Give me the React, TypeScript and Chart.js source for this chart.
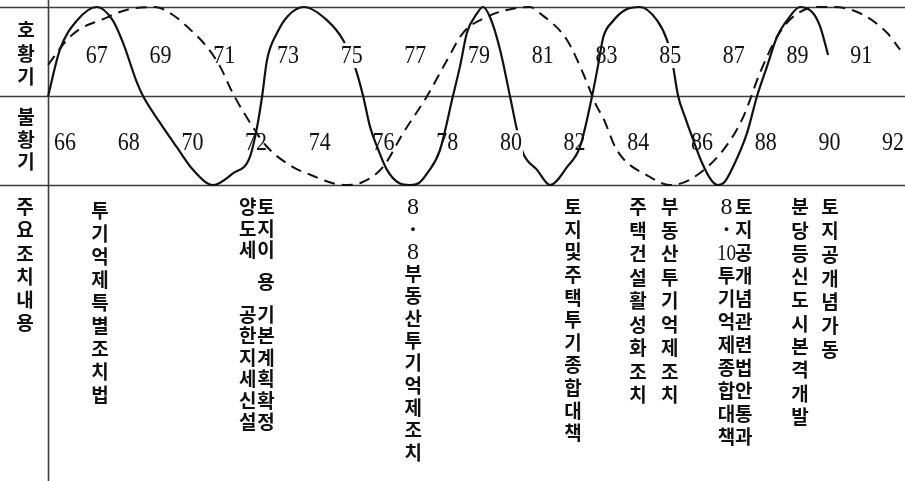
import React, { useEffect, useRef } from "react";
import { Chart, registerables } from "chart.js";

Chart.register(...registerables);

// Year labels: odd years in the boom band, even years in the slump band
const boomYears = [67, 69, 71, 73, 75, 77, 79, 81, 83, 85, 87, 89, 91];
const slumpYears = [66, 68, 70, 72, 74, 76, 78, 80, 82, 84, 86, 88, 90, 92];

// Solid cycle: year and phase (+1 peak, 0 turning line, -1 trough)
const primaryYears = [
  65.47, 65.84, 66.38, 67.0, 67.5, 67.82, 68.26, 68.45, 68.98, 69.5, 70.02, 70.65,
  71.27, 71.8, 72.03, 72.19, 72.34, 72.66, 73.0, 73.5, 74.23, 74.73, 75.1, 75.36,
  75.58, 75.8, 76.11, 76.5, 76.83, 77.1, 77.37, 77.77, 78.18, 78.4, 78.62, 78.94,
  79.12, 79.34, 79.66, 79.97, 80.19, 80.38, 80.82, 81.23, 81.76, 82.17, 82.55, 82.73,
  82.9, 83.2, 83.6, 84.05, 84.59, 84.9, 85.06, 85.25, 85.47, 85.69, 86.0, 86.3,
  86.5, 86.7, 86.97, 87.41, 87.73, 88.04, 88.35, 88.67, 89.08, 89.49, 89.71, 89.96,
];
const primaryPhase = [
  0, 0.52, 0.85, 1.0, 0.85, 0.6, 0.15, 0, -0.3, -0.57, -0.83, -1.0,
  -0.87, -0.69, -0.35, 0, 0.4, 0.71, 0.9, 1.0, 0.85, 0.63, 0.33, 0,
  -0.35, -0.57, -0.83, -0.98, -1.0, -0.98, -0.87, -0.61, 0, 0.33, 0.71, 0.93,
  1.0, 0.89, 0.52, 0, -0.38, -0.64, -0.83, -1.0, -0.8, -0.57, 0, 0.33,
  0.66, 0.84, 0.97, 1.0, 0.85, 0.63, 0.4, 0, -0.24, -0.46, -0.75, -0.95,
  -1.0, -0.97, -0.8, -0.42, 0, 0.33, 0.66, 0.85, 1.0, 0.93, 0.78, 0.46,
];

// Dashed cycle
const secondaryYears = [
  65.47, 66.06, 66.5, 67.1, 67.95, 68.83, 69.39, 69.83, 70.46, 70.87, 71.27, 71.9,
  72.34, 73.16, 73.6, 74.41, 74.85, 75.26, 75.98, 76.61, 77.37, 77.99, 78.5, 79.25,
  80.19, 80.6, 80.91, 81.76, 82.26, 82.7, 82.89, 83.33, 84.37, 84.99, 85.62, 86.66,
  87.29, 87.82, 88.35, 88.86, 89.61, 90.11, 90.96, 91.81, 92.22,
];
const secondaryPhase = [
  0.35, 0.63, 0.76, 0.85, 0.97, 1.0, 0.91, 0.78, 0.55, 0.33, 0.03, -0.35,
  -0.57, -0.8, -0.87, -0.98, -1.0, -0.98, -0.8, -0.42, 0, 0.4, 0.71, 0.89,
  0.99, 1.0, 0.93, 0.63, 0.26, -0.12, -0.24, -0.61, -0.91, -1.0, -0.94, -0.61,
  -0.24, 0.26, 0.66, 0.89, 1.0, 1.0, 0.93, 0.71, 0.52,
];

// Main policy measures, placed at the year they belong to
const measureYears = [67.1, 71.74, 72.31, 76.93, 81.95, 83.99, 84.99, 86.77, 87.31, 89.08, 90.02];
const measureTexts = [
  "투기억제특별조치법",
  "양도세  공한지세신설",
  "토지이\u2009용\u2009기본계획확정",
  "8·8부동산투기억제조치",
  "토지및주택투기종합대책",
  "주택건설활성화조치",
  "부동산투기억제조치",
  "8·10투기억제종합대책",
  "토지공개념관련법안통과",
  "분당등신도시본격개발",
  "토지공개념가동",
];

// Row labels on the left
const boomLabel = "호황기";
const slumpLabel = "불황기";
const measuresLabel = "주요조치내용";

// Layout / style settings
const rowStep = [23, 21.5, 21.5, 22.3, 22.6, 23.5, 23.5, 23, 23, 23.3, 23.8];
const rowTop = [211, 207, 207, 207, 207, 207, 207, 207, 207, 207, 207];
const maskedYears = [75, 80, 85];
const HANGUL = "bold 19px 'Noto Sans CJK KR'";
const SERIF_SMALL = "24px 'Liberation Serif'";
const SERIF_DOT = "bold 24px 'Liberation Serif'";
const SERIF_YEAR = "25px 'Liberation Serif'";
const YEAR_SQUEEZE = 0.88;
const INK = "#111";

function drawColumn(ctx: CanvasRenderingContext2D, text: string, cx: number, top: number, step: number) {
  const tokens = text.match(/\d+|[\s\S]/gu) || [];
  let row = 0;
  for (const t of tokens) {
    if (t === " ") { row += 1; continue; }
    if (t === "\u2009") { row += 0.5; continue; }
    const latin = /[\d·]/.test(t);
    ctx.font = t === "·" ? SERIF_DOT : latin ? SERIF_SMALL : HANGUL;
    if (/^\d{2,}$/.test(t)) {
      // two-digit numbers are set narrow to fit the column
      ctx.save();
      ctx.translate(cx, top + row * step + 1);
      ctx.scale(0.8, 1);
      ctx.fillText(t, 0, 0);
      ctx.restore();
    } else {
      ctx.fillText(t, cx, top + row * step + (latin ? 1 : 0));
    }
    row += 1;
  }
}

const framePlugin = {
  id: "cycleFrame",
  beforeDatasetsDraw(chart: any) {
    const { ctx, chartArea, scales } = chart;
    const W = chart.width;
    const H = chart.height;
    ctx.save();
    ctx.strokeStyle = "#3c3c3c";
    ctx.lineWidth = 1.6;
    for (const v of [1, 0, -1]) {
      const py = Math.round(scales.y.getPixelForValue(v)) + 0.5;
      ctx.beginPath();
      ctx.moveTo(0, py);
      ctx.lineTo(W, py);
      ctx.stroke();
    }
    const vx = Math.round(chartArea.left) + 0.5;
    ctx.beginPath();
    ctx.moveTo(vx, 0);
    ctx.lineTo(vx, H);
    ctx.stroke();
    ctx.restore();
  },
  afterDatasetsDraw(chart: any) {
    const { ctx, scales } = chart;
    const xs = scales.x;
    const ys = scales.y;
    ctx.save();
    ctx.textAlign = "center";
    ctx.textBaseline = "middle";
    ctx.fillStyle = INK;

    const yearLabel = (yr: number, phase: number) => {
      const px = xs.getPixelForValue(yr);
      const py = ys.getPixelForValue(phase);
      ctx.font = SERIF_YEAR;
      const txt = String(yr);
      const w = ctx.measureText(txt).width * YEAR_SQUEEZE;
      if (maskedYears.includes(yr)) {
        ctx.fillStyle = "#fff";
        ctx.fillRect(px - w / 2 - 1, py - 12, w + 2, 25);
        ctx.fillStyle = INK;
      }
      ctx.save();
      ctx.translate(px, py + 1);
      ctx.scale(YEAR_SQUEEZE, 1);
      ctx.fillText(txt, 0, 0);
      ctx.restore();
    };
    boomYears.forEach((yr) => yearLabel(yr, 0.46));
    slumpYears.forEach((yr) => yearLabel(yr, -0.52));

    drawColumn(ctx, boomLabel, 26, 30, 23.5);
    drawColumn(ctx, slumpLabel, 26, 117, 22.5);
    drawColumn(ctx, measuresLabel, 25, 207, 23.2);

    measureTexts.forEach((txt, i) => {
      drawColumn(ctx, txt, xs.getPixelForValue(measureYears[i]), rowTop[i], rowStep[i]);
    });
    ctx.restore();
  },
};

export default function App() {
  const canvasRef = useRef<HTMLCanvasElement>(null);

  useEffect(() => {
    const canvas = canvasRef.current;
    if (!canvas) return;
    const chart = new Chart(canvas, {
      type: "line",
      data: {
        datasets: [
          {
            data: primaryYears.map((x, i) => ({ x, y: primaryPhase[i] })),
            borderColor: INK,
            borderWidth: 2.2,
            pointRadius: 0,
            cubicInterpolationMode: "monotone",
            fill: false,
            clip: false,
          },
          {
            data: secondaryYears.map((x, i) => ({ x, y: secondaryPhase[i] })),
            borderColor: INK,
            borderWidth: 2,
            borderDash: [11, 7],
            pointRadius: 0,
            cubicInterpolationMode: "monotone",
            fill: false,
            clip: false,
          },
        ],
      },
      options: {
        responsive: false,
        animation: false,
        devicePixelRatio: 1,
        layout: { padding: { left: 48, right: 0, top: 7, bottom: 296 } },
        plugins: { legend: { display: false }, tooltip: { enabled: false } },
        scales: {
          x: { type: "linear", min: 65.466, max: 92.374, display: false },
          y: { type: "linear", min: -1, max: 1, display: false },
        },
      },
      plugins: [framePlugin],
    });
    return () => chart.destroy();
  }, []);

  return (
    <div style={{ position: "absolute", left: 0, top: 0, width: 905, height: 481, background: "#fff" }}>
      <canvas ref={canvasRef} width={905} height={481} />
    </div>
  );
}
